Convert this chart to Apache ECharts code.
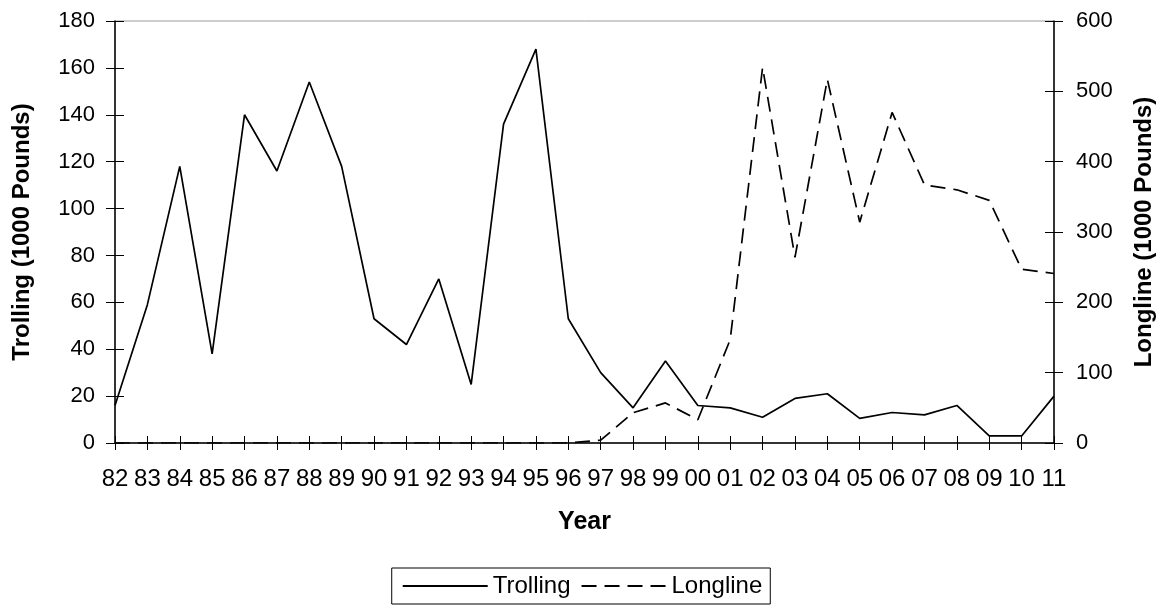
<!DOCTYPE html>
<html>
<head>
<meta charset="utf-8">
<script src="https://cdn.jsdelivr.net/npm/echarts@6/dist/echarts.min.js"></script>
<style>
html,body{margin:0;padding:0;background:#fff;}
#c{width:1164px;height:612px;}
</style>
</head>
<body>
<div id="c"></div>
<script>
const years = ['82','83','84','85','86','87','88','89','90','91','92','93','94','95','96','97','98','99','00','01','02','03','04','05','06','07','08','09','10','11'];
const trolling = [16,59,118,38,140,116,154,118,53,42,70,25,136,168,53,30,15,35,16,15,11,19,21,10.5,13,12,16,3,3,20];
const longline = [0,0,0,0,0,0,0,0,0,0,0,0,0,0,0,4,43,57,33,147,534,264,517,314,470,367,360,345,247,241];
const leftTicks = {min:0,max:180,interval:20};
const rightTicks = {min:0,max:600,interval:100};

const FONT = '"Liberation Sans", Arial, sans-serif';
const chart = echarts.init(document.getElementById('c'), null, {renderer:'canvas'});
chart.setOption({
  animation:false,
  backgroundColor:'#fff',
  textStyle:{fontFamily:FONT, color:'#000'},
  grid:{left:115,right:108,top:21,bottom:169,show:true,borderColor:'#9a9a9a',borderWidth:1,backgroundColor:'transparent'},
  legend:{
    left:'center', top:568,
    data:['Trolling','Longline'],
    itemWidth:85, itemHeight:14, itemGap:10,
    borderColor:'#000', borderWidth:1, padding:[6,8,6,10],
    itemStyle:{color:'transparent',borderColor:'transparent',borderWidth:0,opacity:0},
    textStyle:{fontFamily:FONT,fontSize:24,color:'#000'}
  },
  xAxis:[{
    type:'category', data:years, boundaryGap:false, position:'bottom',
    name:'Year', nameLocation:'middle', nameGap:67,
    nameTextStyle:{fontFamily:FONT,fontSize:25,fontWeight:'bold',color:'#000'},
    axisLine:{lineStyle:{color:'#000',width:1.5}},
    axisTick:{show:true,length:7,inside:false,lineStyle:{color:'#000',width:1}},
    axisLabel:{fontFamily:FONT,fontSize:24,color:'#000',margin:24,interval:0},
    splitLine:{show:false}
  },{
    type:'category', data:years, boundaryGap:false, position:'bottom',
    axisLine:{show:false},
    axisTick:{show:true,length:7,inside:true,lineStyle:{color:'#000',width:1}},
    axisLabel:{show:false}, splitLine:{show:false}
  }],
  yAxis:[{
    type:'value', position:'left', min:leftTicks.min, max:leftTicks.max, interval:leftTicks.interval,
    name:'Trolling (1000 Pounds)', nameLocation:'middle', nameGap:81, nameRotate:90,
    nameTextStyle:{fontFamily:FONT,fontSize:24,fontWeight:'bold',color:'#000'},
    axisLine:{show:true,lineStyle:{color:'#000',width:1.5}},
    axisTick:{show:true,length:9,lineStyle:{color:'#000',width:1}},
    axisLabel:{fontFamily:FONT,fontSize:22,color:'#000',margin:20},
    splitLine:{show:false}
  },{
    type:'value', position:'right', min:rightTicks.min, max:rightTicks.max, interval:rightTicks.interval,
    name:'Longline (1000 Pounds)', nameLocation:'middle', nameGap:78, nameRotate:90,
    nameTextStyle:{fontFamily:FONT,fontSize:24,fontWeight:'bold',color:'#000'},
    axisLine:{show:true,lineStyle:{color:'#000',width:1.5}},
    axisTick:{show:true,length:9,lineStyle:{color:'#000',width:1}},
    axisLabel:{fontFamily:FONT,fontSize:22,color:'#000',margin:22},
    splitLine:{show:false}
  },{
    type:'value', position:'left', min:leftTicks.min, max:leftTicks.max, interval:leftTicks.interval,
    axisLine:{show:false}, axisLabel:{show:false}, splitLine:{show:false},
    axisTick:{show:true,inside:true,length:9,lineStyle:{color:'#000',width:1}}
  },{
    type:'value', position:'right', min:rightTicks.min, max:rightTicks.max, interval:rightTicks.interval,
    axisLine:{show:false}, axisLabel:{show:false}, splitLine:{show:false},
    axisTick:{show:true,inside:true,length:9,lineStyle:{color:'#000',width:1}}
  }],
  series:[{
    name:'Trolling', type:'line', data:trolling, xAxisIndex:0, yAxisIndex:0,
    symbol:'none', lineStyle:{color:'#000',width:1.7}, itemStyle:{color:'#000'}
  },{
    name:'Longline', type:'line', data:longline, xAxisIndex:0, yAxisIndex:1,
    symbol:'none', lineStyle:{color:'#000',width:1.7,type:[15,8]}, itemStyle:{color:'#000'}
  }]
});
</script>
</body>
</html>
